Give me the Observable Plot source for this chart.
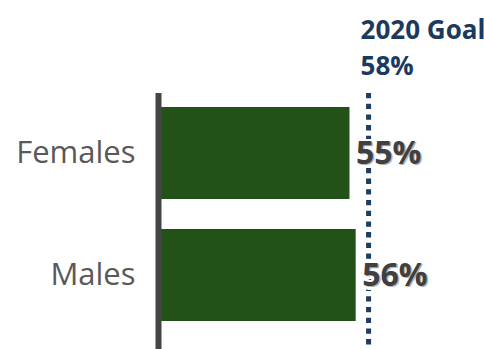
<!DOCTYPE html>
<html>
<head>
<meta charset="utf-8">
<script src="https://cdn.jsdelivr.net/npm/d3@7"></script>
<script src="https://cdn.jsdelivr.net/npm/@observablehq/plot@0.6"></script>
<style>
  html, body { margin: 0; padding: 0; background: #fff; }
  #chart { width: 484px; height: 349px; overflow: hidden; }
</style>
</head>
<body>
<div id="chart"></div>
<script>
// Data
const categories = ["Females", "Males"];
const values = [55, 56];
const valueLabels = ["55%", "56%"];
const goal = 58;
const goalLabels = ["2020 Goal", "58%"];

// Scale settings (axis starts off zero, as in the reference)
const xMin = 24.6;
const xMax = 60;

const rows = categories.map((c, i) => ({category: c, value: values[i], label: valueLabels[i]}));
const goalRows = [{goal, text: goalLabels.join("\n")}];

const chart = Plot.plot({
  width: 484,
  height: 349,
  marginLeft: 161,
  marginRight: 0,
  marginTop: 93,
  marginBottom: 0,
  style: {fontFamily: "'Open Sans', sans-serif", color: "#595959", background: "#fff"},
  x: {domain: [xMin, xMax], range: [161, 161 + (xMax - xMin) * 6.2], axis: null},
  y: {domain: categories, range: [92, 336], paddingInner: 0.246, paddingOuter: 0.123, label: null},
  marks: [
    Plot.barX(rows, {y: "category", x1: () => xMin, x2: "value", fill: "#225218"}),
    Plot.ruleX([xMin], {stroke: "#454545", strokeWidth: 6, dx: -3}),
    Plot.ruleX(goalRows, {x: "goal", stroke: "#1d3d63", strokeWidth: 5, strokeDasharray: "5.3,5.4"}),
    Plot.text(goalRows, {x: "goal", text: "text", frameAnchor: "top", lineAnchor: "bottom", textAnchor: "start",
      dx: -8, dy: -19, lineHeight: 1.385, fontSize: 26, fontWeight: "bold", fill: "#1b3a5e"}),
    Plot.text(rows, {y: "category", x: "value", text: "label", textAnchor: "start", dx: 7.5, dy: 1.5,
      fontSize: 32, fontWeight: "bold", fill: "#b5b5b5", stroke: "#fff", strokeWidth: 6, paintOrder: "stroke"}),
    Plot.text(rows, {y: "category", x: "value", text: "label", textAnchor: "start", dx: 6,
      fontSize: 32, fontWeight: "bold", fill: "#404040"}),
    Plot.axisY({tickSize: 0, tickPadding: 26, fontSize: 31, fontWeight: "normal", label: null})
  ]
});
document.getElementById("chart").appendChild(chart);
</script>
</body>
</html>
